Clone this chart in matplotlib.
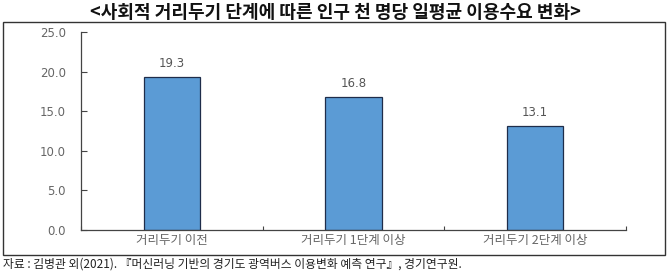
import matplotlib
matplotlib.use("Agg")
import matplotlib.pyplot as plt
from matplotlib.patches import Rectangle

plt.rcParams["font.family"] = ["Noto Sans CJK KR", "DejaVu Sans"]

categories = ["거리두기 이전", "거리두기 1단계 이상", "거리두기 2단계 이상"]
values = [19.3, 16.8, 13.1]
y_ticks = [0, 5, 10, 15, 20, 25]

title = "<사회적 거리두기 단계에 따른 인구 천 명당 일평균 이용수요 변화>"
source = "자료 : 김병관 외(2021). 『머신러닝 기반의 경기도 광역버스 이용변화 예측 연구』, 경기연구원."

fig = plt.figure(figsize=(6.7, 2.73), dpi=100)
ax = fig.add_axes([0.121, 0.1575, 0.813, 0.7255])

x = list(range(len(categories)))
bars = ax.bar(x, values, width=0.31, color="#5b9bd5", edgecolor="#1f2d4a", linewidth=0.9)
for b, v in zip(bars, values):
    ax.text(b.get_x() + b.get_width() / 2, v + 0.9, f"{v:.1f}", ha="center", va="bottom",
            fontsize=8.5, color="#555555", family="DejaVu Sans")

ax.set_xlim(-0.5, 2.5)
ax.set_ylim(0, 25)
ax.set_yticks(y_ticks)
ax.set_yticklabels([f"{t:.1f}" for t in y_ticks], family="DejaVu Sans", fontsize=8.5, color="#666666")
ax.set_xticks([-0.5, 0.5, 1.5, 2.5])
ax.set_xticklabels([])
ax.set_xticks(x, minor=True)
ax.set_xticklabels(categories, minor=True, fontsize=9, color="#666666")
ax.tick_params(axis="x", which="minor", length=0, pad=3)
ax.tick_params(axis="x", which="major", direction="in", length=3, color="#444444")
ax.tick_params(axis="y", direction="in", length=4, pad=11, color="#444444")
for s in ["top", "right"]:
    ax.spines[s].set_visible(False)
for s in ["left", "bottom"]:
    ax.spines[s].set_color("#444444")
    ax.spines[s].set_linewidth(0.9)

fig.patches.append(Rectangle((0.0045, 0.066), 0.988, 0.853, transform=fig.transFigure,
                             fill=False, edgecolor="#333333", linewidth=1.0))
fig.text(0.5, 0.956, title, ha="center", va="center", fontsize=13, fontweight="bold", color="#111111")
fig.text(0.005, 0.033, source, ha="left", va="center", fontsize=8.5, color="#222222")

fig.savefig("out.png", dpi=100)
